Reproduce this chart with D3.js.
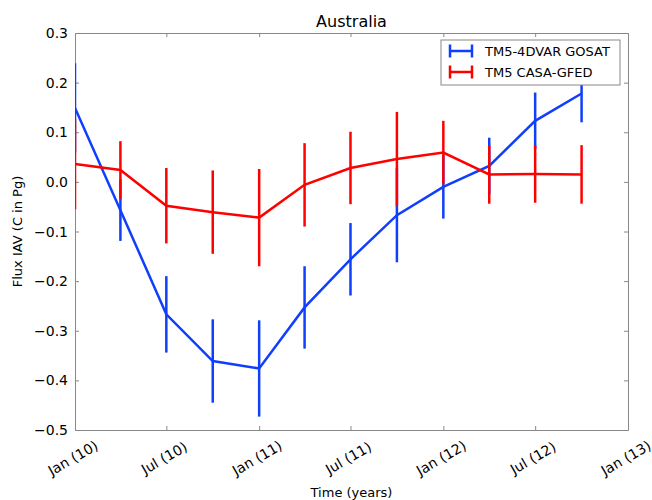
<!DOCTYPE html>
<html>
<head>
<meta charset="utf-8">
<script src="https://cdn.jsdelivr.net/npm/d3@7"></script>
<style>
  body { margin: 0; background: #fff; }
  svg { font-family: "DejaVu Sans", sans-serif; }
</style>
</head>
<body>
<div id="container"></div>
<script>
// quarterly time points (year, month index)
const dates = [[2010,0],[2010,3],[2010,6],[2010,9],[2011,0],[2011,3],[2011,6],[2011,9],
               [2012,0],[2012,3],[2012,6],[2012,9]].map(d => new Date(d[0], d[1], 1));

const gosatFlux = [0.149, -0.057, -0.267, -0.361, -0.376, -0.253, -0.156, -0.067, -0.010, 0.032, 0.123, 0.178];
const gosatErr  = [0.090, 0.062, 0.077, 0.084, 0.097, 0.083, 0.073, 0.095, 0.064, 0.057, 0.057, 0.058];
const casaFlux  = [0.036, 0.024, -0.048, -0.061, -0.072, -0.006, 0.028, 0.046, 0.059, 0.015, 0.016, 0.015];
const casaErr   = [0.091, 0.058, 0.076, 0.084, 0.098, 0.084, 0.073, 0.095, 0.064, 0.059, 0.058, 0.059];

const seriesNames = ["TM5-4DVAR GOSAT", "TM5 CASA-GFED"];
const xTicks = [[2010,0],[2010,6],[2011,0],[2011,6],[2012,0],[2012,6],[2013,0]].map(d => new Date(d[0], d[1], 1));
const yTicks = [0.3, 0.2, 0.1, 0.0, -0.1, -0.2, -0.3, -0.4, -0.5];

const w = 652, h = 500;
const pLeft = 75, pRight = 628, pTop = 33, pBottom = 430;

const xScale = d3.scaleTime()
    .domain([new Date(2010,0,1), new Date(2013,0,1)])
    .range([pLeft, pRight]);
const yScale = d3.scaleLinear()
    .domain([-0.5, 0.3])
    .range([pBottom, pTop]);

const svg = d3.select("#container").append("svg")
    .attr("width", w).attr("height", h);

svg.append("clipPath").attr("id", "plotclip")
    .append("rect")
    .attr("x", pLeft).attr("y", pTop)
    .attr("width", pRight - pLeft).attr("height", pBottom - pTop);

const fmtMonth = d3.timeFormat("%b");
const fmtYear = d3.timeFormat("%y");
const minus = (v) => d3.format(".1f")(v).replace("-", "\u2212");

// axes, ticks inside on all sides
const axisColor = "#888";
const tickLen = 4;
const xAxisB = d3.axisBottom(xScale).tickValues(xTicks).tickSizeInner(-tickLen).tickSizeOuter(0).tickFormat("");
const xAxisT = d3.axisTop(xScale).tickValues(xTicks).tickSizeInner(-tickLen).tickSizeOuter(0).tickFormat("");
const yAxisL = d3.axisLeft(yScale).tickValues(yTicks).tickSizeInner(-tickLen).tickSizeOuter(0).tickFormat("");
const yAxisR = d3.axisRight(yScale).tickValues(yTicks).tickSizeInner(-tickLen).tickSizeOuter(0).tickFormat("");

svg.append("g").attr("transform", "translate(0," + pBottom + ")").call(xAxisB);
svg.append("g").attr("transform", "translate(0," + pTop + ")").call(xAxisT);
svg.append("g").attr("transform", "translate(" + pLeft + ",0)").call(yAxisL);
svg.append("g").attr("transform", "translate(" + pRight + ",0)").call(yAxisR);
svg.selectAll(".domain").attr("stroke", axisColor);
svg.selectAll(".tick line").attr("stroke", axisColor);

// tick labels
svg.append("g").selectAll("text")
    .data(yTicks).enter().append("text")
    .attr("x", pLeft - 7)
    .attr("y", d => yScale(d))
    .attr("dy", "0.36em")
    .attr("text-anchor", "end")
    .attr("font-size", "14px")
    .text(d => minus(d));

svg.append("g").selectAll("text")
    .data(xTicks).enter().append("text")
    .attr("transform", d => "translate(" + (xScale(d) - 2) + "," + 458 + ") rotate(-30)")
    .attr("text-anchor", "middle")
    .attr("dy", "0.35em")
    .attr("font-size", "14px")
    .text(d => fmtMonth(d) + " (" + fmtYear(d) + ")");

// titles
svg.append("text").attr("x", (pLeft + pRight) / 2).attr("y", 27)
    .attr("text-anchor", "middle").attr("font-size", "16px").text("Australia");
svg.append("text").attr("x", (pLeft + pRight) / 2).attr("y", 497)
    .attr("text-anchor", "middle").attr("font-size", "13px").text("Time (years)");
svg.append("text")
    .attr("transform", "translate(22," + (pTop + pBottom) / 2 + ") rotate(-90)")
    .attr("text-anchor", "middle").attr("font-size", "13px").text("Flux IAV (C in Pg)");

// series
const colors = ["#0f3ffc", "#ff0000"];
const series = [
    {vals: gosatFlux, errs: gosatErr, color: colors[0]},
    {vals: casaFlux, errs: casaErr, color: colors[1]}
];

const plot = svg.append("g").attr("clip-path", "url(#plotclip)");
const line = d3.line().x(d => xScale(d.date)).y(d => yScale(d.v));

series.forEach(s => {
    const pts = dates.map((d, i) => ({date: d, v: s.vals[i], e: s.errs[i]}));
    const g = plot.append("g");
    g.selectAll("line")
        .data(pts).enter().append("line")
        .attr("x1", d => xScale(d.date)).attr("x2", d => xScale(d.date))
        .attr("y1", d => yScale(d.v - d.e)).attr("y2", d => yScale(d.v + d.e))
        .attr("stroke", s.color).attr("stroke-width", 2.5);
    g.append("path")
        .datum(pts)
        .attr("d", line)
        .attr("fill", "none")
        .attr("stroke", s.color)
        .attr("stroke-width", 2.5);
});

// legend
const legend = svg.append("g").attr("transform", "translate(441,40)");
legend.append("rect")
    .attr("width", 179).attr("height", 45)
    .attr("fill", "#fff").attr("stroke", axisColor);
seriesNames.forEach((name, i) => {
    const y = 11 + i * 21;
    const le = legend.append("g");
    le.append("line").attr("x1", 9).attr("x2", 31).attr("y1", y).attr("y2", y)
        .attr("stroke", colors[i]).attr("stroke-width", 2.5);
    [9, 31].forEach(x => {
        le.append("line").attr("x1", x).attr("x2", x).attr("y1", y - 6.5).attr("y2", y + 6.5)
            .attr("stroke", colors[i]).attr("stroke-width", 2.5);
    });
    le.append("text").attr("x", 44).attr("y", y).attr("dy", "0.36em")
        .attr("font-size", "13px").text(name);
});
</script>
</body>
</html>
